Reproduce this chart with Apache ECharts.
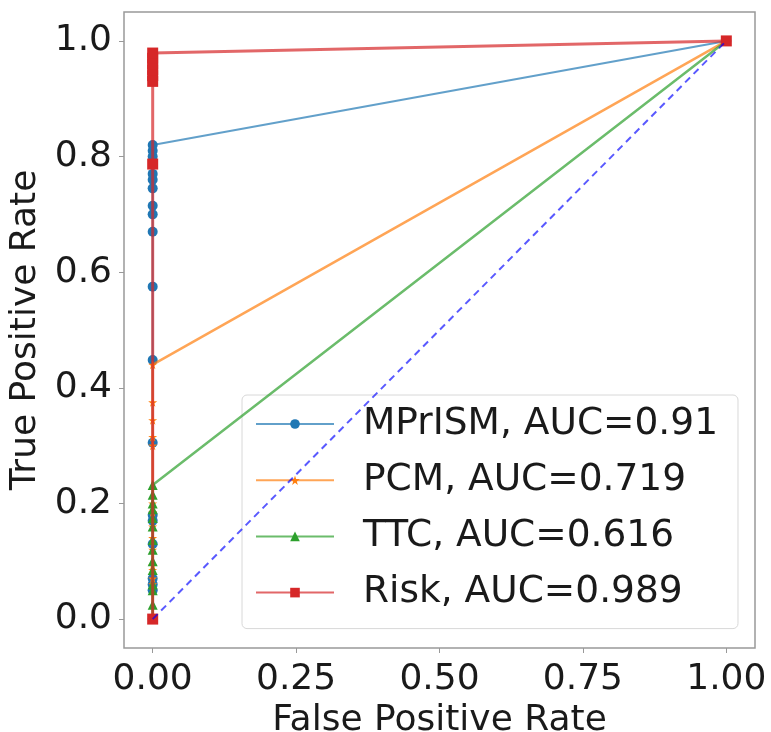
<!DOCTYPE html>
<html>
<head>
<meta charset="utf-8">
<script src="https://cdn.jsdelivr.net/npm/echarts@6/dist/echarts.min.js"></script>
<style>
  html, body { margin: 0; padding: 0; background: #fff; }
  #chart1 { width: 771px; height: 732px; }
</style>
</head>
<body>
<div id="chart1"></div>
<script>
// ROC points (fpr, tpr)
const mprismFpr = [0, 0, 0, 0, 0, 0, 0, 0, 0, 0, 0, 0, 0, 0, 0, 0, 0, 0, 0, 1]
const mprismTpr = [0, 0.05, 0.06, 0.07, 0.13, 0.17, 0.18, 0.305, 0.448, 0.575, 0.67, 0.70, 0.715, 0.745, 0.76, 0.77, 0.80, 0.81, 0.82, 1]
const pcmFpr = [0, 0, 0, 0, 0, 0, 0, 0, 0, 0, 0, 0, 0, 0, 0, 1]
const pcmTpr = [0, 0.06, 0.07, 0.085, 0.093, 0.12, 0.14, 0.16, 0.185, 0.2, 0.3, 0.315, 0.344, 0.375, 0.44, 1]
const ttcFpr = [0, 0, 0, 0, 0, 0, 0, 0, 0, 0, 0, 0, 0, 0, 1]
const ttcTpr = [0, 0.025, 0.05, 0.06, 0.085, 0.10, 0.12, 0.137, 0.16, 0.175, 0.19, 0.20, 0.215, 0.232, 1]
const riskFpr = [0, 0, 0, 0, 0, 0, 0, 0, 1]
const riskTpr = [0, 0.787, 0.93, 0.94, 0.95, 0.96, 0.97, 0.979, 1]
const diagFpr = [0, 1]
const diagTpr = [0, 1]

const seriesNames = ["MPrISM, AUC=0.91", "PCM, AUC=0.719", "TTC, AUC=0.616", "Risk, AUC=0.989"]
const seriesColors = ["#1f77b4", "#ff7f0e", "#2ca02c", "#d62728"]
const xTicks = [0, 0.25, 0.5, 0.75, 1]
const yTicks = [0, 0.2, 0.4, 0.6, 0.8, 1]

const font = "DejaVu Sans"
const starPath = "path://M50,0 L61,35 L98,35 L68,57 L79,91 L50,70 L21,91 L32,57 L2,35 L39,35 Z"

function pairs(xs, ys){
  let out = []
  for (var i = 0; i < xs.length; i++) {
    out.push([xs[i], ys[i]])
  }
  return out
}

function rocSeries(idx, xs, ys, symbol, size, width){
  return {
    name: seriesNames[idx],
    type: "line",
    data: pairs(xs, ys),
    symbol: symbol,
    symbolSize: size,
    showAllSymbol: true,
    color: seriesColors[idx],
    lineStyle: { color: seriesColors[idx], width: width, opacity: 0.7 },
    itemStyle: { color: seriesColors[idx], opacity: 1 },
    emphasis: { disabled: true },
    animation: false,
    z: 2 + idx
  }
}

const chart = echarts.init(document.getElementById("chart1"))

const axisCommon = {
  type: "value",
  min: -0.05,
  max: 1.05,
  nameLocation: "middle",
  nameTextStyle: { fontFamily: font, fontSize: 36, color: "#1a1a1a" },
  axisLine: { show: false, onZero: false },
  splitLine: { show: false }
}

let options = {
  backgroundColor: "#fff",
  grid: {
    left: 124, right: 16, top: 12, bottom: 84,
    outerBoundsMode: "none",
    containLabel: false,
    show: true, borderColor: "#999", borderWidth: 1.5
  },
  xAxis: Object.assign({}, axisCommon, {
    name: "False Positive Rate",
    nameGap: 30,
    axisTick: { show: true, customValues: xTicks, length: 5, lineStyle: { color: "#999" } },
    axisLabel: {
      customValues: xTicks,
      margin: 14,
      fontFamily: font, fontSize: 36, color: "#1a1a1a",
      formatter: v => v.toFixed(2)
    }
  }),
  yAxis: Object.assign({}, axisCommon, {
    name: "True Positive Rate",
    nameGap: 78,
    axisTick: { show: true, customValues: yTicks, length: 5, lineStyle: { color: "#999" } },
    axisLabel: {
      customValues: yTicks,
      margin: 12,
      fontFamily: font, fontSize: 36, color: "#1a1a1a",
      formatter: v => v.toFixed(1)
    }
  }),
  legend: {
    data: seriesNames,
    orient: "vertical",
    left: 242,
    top: 395,
    padding: [9, 20, 16, 13],
    itemGap: 16.2,
    itemWidth: 78,
    itemHeight: 12,
    backgroundColor: "rgba(255,255,255,0.8)",
    borderColor: "#d8d8d8",
    borderWidth: 1,
    borderRadius: 5,
    textStyle: {
      fontFamily: font, fontSize: 37.5, color: "#1a1a1a",
      lineHeight: 40, padding: [0, 0, 0, 24]
    }
  },
  series: [
    rocSeries(0, mprismFpr, mprismTpr, "circle", 10, 2),
    rocSeries(1, pcmFpr, pcmTpr, starPath, 9, 2.5),
    rocSeries(2, ttcFpr, ttcTpr, "triangle", 10, 2.5),
    rocSeries(3, riskFpr, riskTpr, "rect", 11, 3),
    {
      type: "line",
      data: pairs(diagFpr, diagTpr),
      symbol: "none",
      lineStyle: { color: "#0000ff", width: 2, type: [7, 5], opacity: 0.65 },
      emphasis: { disabled: true },
      animation: false,
      z: 10
    }
  ]
}

chart.setOption(options)
</script>
</body>
</html>
